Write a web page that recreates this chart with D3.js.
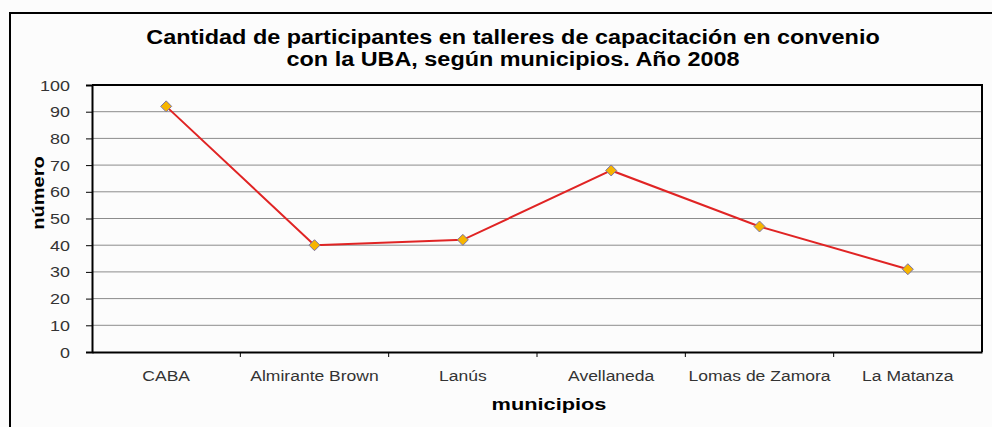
<!DOCTYPE html>
<html>
<head>
<meta charset="utf-8">
<script src="https://cdn.jsdelivr.net/npm/d3@7"></script>
<style>
  body { margin: 0; background: #ffffff; }
  #chart { width: 992px; height: 427px; }
  text { font-family: "Liberation Sans", Arial, sans-serif; }
</style>
</head>
<body>
<div id="chart"></div>
<script>
//Datos
const municipios = ['CABA', 'Almirante Brown', 'Lanús', 'Avellaneda', 'Lomas de Zamora', 'La Matanza'];
const participantes = [92, 40, 42, 68, 47, 31];
const yTicks = [0, 10, 20, 30, 40, 50, 60, 70, 80, 90, 100];
const titulo = ['Cantidad de participantes en talleres de capacitación en convenio', 'con la UBA, según municipios. Año 2008'];

const COLOR_LINE = '#e02424',
COLOR_MARKER = '#f7b500',
COLOR_MARKER_STROKE = '#7a74a8',
COLOR_GRID = '#8c8c8c';

let margin = {top: 85, right: 10, bottom: 75, left: 92},
    width = 982 - margin.left,
    height = 352 - margin.top;

//El original está estirado en horizontal
function stretch(sel, factor) {
    sel.each(function() {
        let len = this.getComputedTextLength();
        d3.select(this)
            .attr('textLength', len * factor)
            .attr('lengthAdjust', 'spacingAndGlyphs');
    });
}

let root = d3.select('#chart')
    .append('svg')
      .attr('width', 992)
      .attr('height', 427);

root.append('rect')
    .attr('width', 992).attr('height', 427)
    .attr('fill', '#fcfcfc');

//Borde exterior
root.append('path')
    .attr('d', 'M10,427 L10,13 L992,13')
    .attr('fill', 'none')
    .attr('stroke', '#000')
    .attr('stroke-width', 2);

//Título
let tituloText = root.selectAll('.titulo')
    .data(titulo)
    .enter()
    .append('text')
    .attr('class', 'titulo')
    .attr('x', 513)
    .attr('y', function(d, i) { return 44 + i * 22; })
    .attr('text-anchor', 'middle')
    .style('font-weight', 'bold')
    .style('font-size', '20px')
    .text(function(d) { return d; });
stretch(tituloText, 1.17);

let svg = root.append('g')
    .attr('transform', 'translate(' + margin.left + ',' + margin.top + ')');

let x = d3.scaleBand()
    .range([0, width])
    .domain(municipios);

let y = d3.scaleLinear()
    .domain([0, 100])
    .range([height, 0]);

//Líneas de grilla
svg.append('g')
    .selectAll('line')
    .data(yTicks.filter(function(d) { return d > 0 && d < 100; }))
    .enter()
    .append('line')
    .attr('x1', 0).attr('x2', width)
    .attr('y1', function(d) { return y(d); })
    .attr('y2', function(d) { return y(d); })
    .attr('stroke', COLOR_GRID)
    .attr('stroke-width', 1);

//Borde del área de trazado
svg.append('path')
    .attr('d', 'M0,' + y(100) + ' L' + width + ',' + y(100) + ' L' + width + ',' + y(0))
    .attr('fill', 'none')
    .attr('stroke', '#000')
    .attr('stroke-width', 2);

//Eje Y
let yAxis = svg.append('g')
    .call(d3.axisLeft(y).tickValues(yTicks).tickSize(6).tickPadding(16));
yAxis.select('.domain').attr('stroke', '#000').attr('stroke-width', 2);
yAxis.selectAll('.tick line').attr('stroke', '#000');
yAxis.selectAll('text')
    .style('font-size', '14px')
    .attr('fill', '#333')
    .attr('dy', '0.36em');
stretch(yAxis.selectAll('text'), 1.28);

//Eje X
let xAxis = svg.append('g')
    .attr('transform', 'translate(0,' + height + ')')
    .call(d3.axisBottom(x).tickSize(0).tickPadding(19));
xAxis.select('.domain').attr('stroke', '#000').attr('stroke-width', 2);
xAxis.selectAll('text')
    .style('font-size', '14px')
    .attr('fill', '#333');
stretch(xAxis.selectAll('text'), 1.25);

//Marcas de separación entre categorías
svg.append('g')
    .selectAll('line')
    .data(municipios.slice(1))
    .enter()
    .append('line')
    .attr('x1', function(d) { return x(d); })
    .attr('x2', function(d) { return x(d); })
    .attr('y1', height)
    .attr('y2', height + 5)
    .attr('stroke', '#000');

//Títulos de ejes
let xTitle = svg.append('text')
    .attr('x', 457)
    .attr('y', height + 58)
    .attr('text-anchor', 'middle')
    .style('font-weight', 'bold')
    .style('font-size', '17px')
    .text('municipios');
stretch(xTitle, 1.28);

let yTitle = svg.append('text')
    .attr('transform', 'translate(' + (44 - margin.left) + ',' + (193 - margin.top) + ')rotate(-90)')
    .attr('text-anchor', 'middle')
    .style('font-weight', 'bold')
    .style('font-size', '17px')
    .text('número');
stretch(yTitle, 1.18);

//Línea
let cx = function(d, i) { return x(municipios[i]) + x.bandwidth() / 2; };

svg.append('path')
    .datum(participantes)
    .attr('fill', 'none')
    .attr('stroke', COLOR_LINE)
    .attr('stroke-width', 2)
    .attr('d', d3.line().x(cx).y(function(d) { return y(d); }));

//Marcadores
svg.selectAll('.marker')
    .data(participantes)
    .enter()
    .append('path')
    .attr('class', 'marker')
    .attr('transform', function(d, i) { return 'translate(' + cx(d, i) + ',' + y(d) + ')'; })
    .attr('d', 'M0,-5.5 L5.5,0 L0,5.5 L-5.5,0 Z')
    .attr('fill', COLOR_MARKER)
    .attr('stroke', COLOR_MARKER_STROKE)
    .attr('stroke-width', 1);
</script>
</body>
</html>
